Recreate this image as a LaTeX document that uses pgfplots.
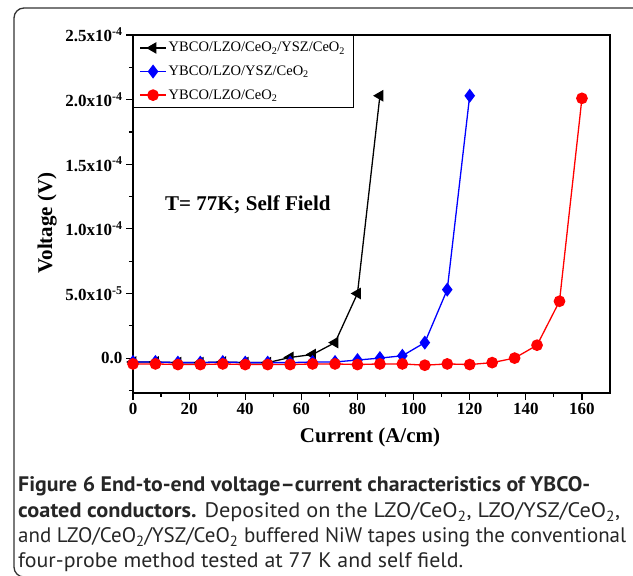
\documentclass[border=0pt]{standalone}
\usepackage{fontspec}
\setmainfont{Liberation Serif}
\newfontfamily\capfont{PT Sans}
\usepackage{graphicx}
\usepackage{pgfplots}
\pgfplotsset{compat=1.18}

\begin{document}
\begin{tikzpicture}[x=1pt,y=1pt]
\useasboundingbox (0,0) rectangle (633,576);
\begin{scope}
  \clip (0,0) rectangle (633,576);
  \draw[line width=1.3pt, black!80, rounded corners=10pt] (14,-1) rectangle (660,568);
\end{scope}

\begin{axis}[
    at={(133pt,183pt)}, anchor=south west,
    width=477pt, height=358pt, scale only axis,
    xmin=0, xmax=170,
    ymin=-2.7e-5, ymax=2.5e-4,
    xtick={0,20,40,60,80,100,120,140,160},
    xticklabels={0,20,40,60,80,100,120,140,160},
    minor xtick={10,30,50,70,90,110,130,150},
    ytick={0,5e-5,1e-4,1.5e-4,2e-4,2.5e-4},
    yticklabels={0.0,5.0x10\textsuperscript{-5},1.0x10\textsuperscript{-4},1.5x10\textsuperscript{-4},2.0x10\textsuperscript{-4},2.5x10\textsuperscript{-4}},
    minor ytick={-2.5e-5,2.5e-5,7.5e-5,1.25e-4,1.75e-4,2.25e-4},
    scaled y ticks=false,
    tick align=outside, tick pos=left,
    major tick length=7pt, minor tick length=4pt,
    every tick/.style={black, line width=1.2pt},
    axis line style={line width=1.3pt},
    ticklabel style={font=\fontsize{17}{20}\selectfont\bfseries},
    xlabel={Current (A/cm)},
    ylabel={Voltage (V)},
    label style={font=\fontsize{21}{24}\selectfont\bfseries},
    xlabel style={at={(axis description cs:0.497,-0.123)}, anchor=center},
    ylabel style={at={(axis description cs:-0.18,0.475)}, anchor=center},
    legend style={
        at={(0,1)}, anchor=north west,
        draw=black, line width=0.8pt,
        font=\fontsize{14.5}{17}\selectfont,
        inner xsep=6pt, inner ysep=5pt,
        row sep=8.5pt,
        cells={anchor=west}
    },
    legend image code/.code={
        \draw[mark repeat=2, mark phase=2] plot coordinates {(0pt,0pt) (13pt,0pt) (26pt,0pt)};
    },
]
% YBCO/LZO/CeO2/YSZ/CeO2
\addplot[black, line width=1.3pt, mark=triangle*, mark size=5.5pt, mark options={rotate=90, solid}] coordinates {
    (0,-3.0e-6) (8,-3.0e-6) (16,-3.5e-6) (24,-3.5e-6) (32,-3.0e-6) (40,-3.5e-6)
    (48,-3.5e-6) (56,0.5e-6) (64,2.8e-6) (72,1.2e-5) (80,5.0e-5) (88,2.03e-4)
};
\addlegendentry{YBCO/LZO/CeO\textsubscript{2}/YSZ/CeO\textsubscript{2}}

% YBCO/LZO/YSZ/CeO2
\addplot[blue, line width=1.3pt, mark=diamond*, mark size=6pt] coordinates {
    (0,-3.0e-6) (8,-3.0e-6) (16,-3.5e-6) (24,-3.5e-6) (32,-3.0e-6) (40,-3.5e-6)
    (48,-3.5e-6) (56,-3.5e-6) (64,-3.0e-6) (72,-3.0e-6) (80,-1.5e-6) (88,0.0)
    (96,1.8e-6) (104,1.2e-5) (112,5.3e-5) (120,2.03e-4)
};
\addlegendentry{YBCO/LZO/YSZ/CeO\textsubscript{2}}

% YBCO/LZO/CeO2
\addplot[red, line width=1.3pt, mark=*, mark size=5.2pt] coordinates {
    (0,-4.5e-6) (8,-4.5e-6) (16,-5.0e-6) (24,-5.0e-6) (32,-4.5e-6) (40,-5.0e-6)
    (48,-5.0e-6) (56,-5.0e-6) (64,-4.5e-6) (72,-4.5e-6) (80,-5.0e-6) (88,-4.5e-6)
    (96,-4.5e-6) (104,-5.5e-6) (112,-4.5e-6) (120,-5.0e-6) (128,-3.5e-6)
    (136,0.0) (144,1.0e-5) (152,4.4e-5) (160,2.01e-4)
};
\addlegendentry{YBCO/LZO/CeO\textsubscript{2}}

\node[anchor=base west, font=\fontsize{21}{24}\selectfont\bfseries, inner sep=0pt]
    at (rel axis cs:0.067,0.511) {T= 77K; Self Field};
\end{axis}

\begin{scope}[every node/.style={anchor=base west, inner sep=0pt, text=black!85,
      font=\capfont\fontsize{21}{25}\selectfont}]
\node at (18,84) {\resizebox{572pt}{\height}{\bfseries Figure 6 End-to-end voltage–current characteristics of YBCO-}};
\node at (18,58) {\resizebox{602pt}{\height}{{\bfseries coated conductors.} Deposited on the LZO/CeO\textsubscript{2}, LZO/YSZ/CeO\textsubscript{2},}};
\node at (18,33) {\resizebox{608pt}{\height}{and LZO/CeO\textsubscript{2}/YSZ/CeO\textsubscript{2} buffered NiW tapes using the conventional}};
\node at (18,8) {\resizebox{445pt}{\height}{four-probe method tested at 77 K and self field.}};
\end{scope}
\end{tikzpicture}
\end{document}
